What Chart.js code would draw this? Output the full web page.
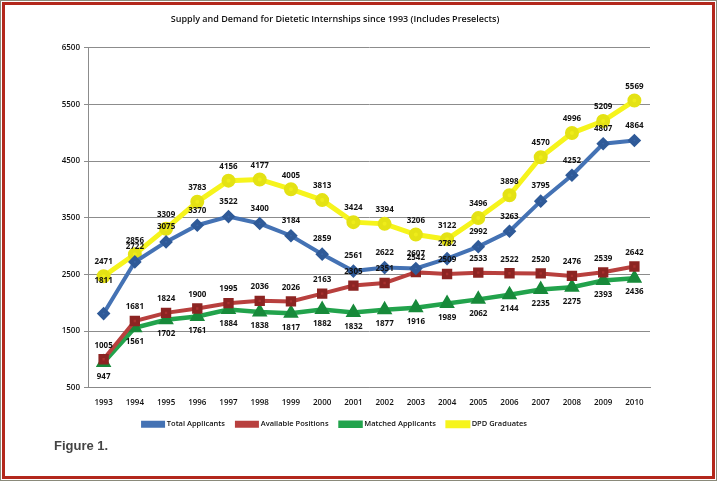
<!DOCTYPE html>
<html>
<head>
<meta charset="utf-8">
<script src="https://cdn.jsdelivr.net/npm/chart.js"></script>
<style>
  html, body { margin: 0; padding: 0; background: #fff; }
  #frame {
    position: absolute; left: 0; top: 0; width: 717px; height: 481px;
    box-sizing: border-box; border: 1px solid #8a8a7a;
  }
  #frame-inner {
    position: absolute; left: 1px; top: 1px; right: 1px; bottom: 1px;
    border: 3px solid #b3281c;
  }
  #wrap { position: absolute; left: 0; top: 0; width: 717px; height: 481px; }
  #fig {
    position: absolute; left: 54px; top: 438px;
    font-family: "Liberation Sans", Arial, sans-serif; font-weight: bold;
    font-size: 13px; color: #444;
  }
</style>
</head>
<body>
<div id="frame"><div id="frame-inner"></div></div>
<div id="wrap"><canvas id="chart" width="717" height="481"></canvas></div>
<div id="fig">Figure 1.</div>
<script>
// Data
const years = ['1993','1994','1995','1996','1997','1998','1999','2000','2001','2002',
               '2003','2004','2005','2006','2007','2008','2009','2010'];
const totalApplicants = [1811, 2722, 3075, 3370, 3522, 3400, 3184, 2859, 2561, 2622,
                         2607, 2782, 2992, 3263, 3795, 4252, 4807, 4864];
const availablePositions = [1005, 1681, 1824, 1900, 1995, 2036, 2026, 2163, 2305, 2351,
                            2542, 2509, 2533, 2522, 2520, 2476, 2539, 2642];
const matchedApplicants = [947, 1561, 1702, 1761, 1884, 1838, 1817, 1882, 1832, 1877,
                           1916, 1989, 2062, 2144, 2235, 2275, 2393, 2436];
const dpdGraduates = [2471, 2856, 3309, 3783, 4156, 4177, 4005, 3813, 3424, 3394,
                      3206, 3122, 3496, 3898, 4570, 4996, 5209, 5569];
const yTicks = [500, 1500, 2500, 3500, 4500, 5500, 6500];

const FONT = '"Open Sans", "Liberation Sans", sans-serif';

// draws the value next to each point
const valueLabels = {
  id: 'valueLabels',
  afterDatasetsDraw(chart) {
    const ctx = chart.ctx;
    ctx.save();
    ctx.font = 'bold 8px ' + FONT;
    ctx.fillStyle = '#111';
    ctx.textAlign = 'center';
    ctx.textBaseline = 'middle';
    chart.data.datasets.forEach((ds, i) => {
      const meta = chart.getDatasetMeta(i);
      meta.data.forEach((pt, j) => {
        let dy = ds.labelOffset;
        if (ds.firstLabelOffset !== undefined && j === 0) dy = ds.firstLabelOffset;
        ctx.fillText(String(ds.data[j]), pt.x, pt.y + dy);
      });
    });
    ctx.restore();
  }
};

new Chart(document.getElementById('chart'), {
  type: 'line',
  data: {
    labels: years,
    datasets: [
      {
        label: 'Total Applicants', data: totalApplicants,
        borderColor: '#4472b4', backgroundColor: '#3a66a8',
        pointStyle: 'rectRot', pointRadius: 4, pointBorderColor: '#2f5a98',
        borderWidth: 4, labelOffset: -15, firstLabelOffset: -33
      },
      {
        label: 'Available Positions', data: availablePositions,
        borderColor: '#b8403e', backgroundColor: '#a8302e',
        pointStyle: 'rect', pointRadius: 4.5, pointBorderColor: '#8c2422',
        borderWidth: 4, labelOffset: -14
      },
      {
        label: 'Matched Applicants', data: matchedApplicants,
        borderColor: '#22a34c', backgroundColor: '#1c9a44',
        pointStyle: 'triangle', pointRadius: 4.5, pointBorderColor: '#178a3a',
        borderWidth: 4.5, labelOffset: 14
      },
      {
        label: 'DPD Graduates', data: dpdGraduates,
        borderColor: '#f6f41c', backgroundColor: '#eeec1a',
        pointStyle: 'circle', pointRadius: 4.5, pointBorderColor: '#e4e214',
        borderWidth: 5, labelOffset: -14
      }
    ]
  },
  options: {
    responsive: false,
    animation: false,
    layout: { padding: { left: 20, right: 67, top: 8, bottom: 43 } },
    plugins: {
      title: {
        display: true,
        text: 'Supply and Demand for Dietetic Internships since 1993 (Includes Preselects)',
        font: { family: FONT, size: 9, weight: '600' },
        color: '#111',
        padding: { top: 6, bottom: 23 }
      },
      legend: {
        position: 'bottom',
        labels: {
          boxWidth: 20, boxHeight: 3,
          font: { family: FONT, size: 7.5, weight: '600' },
          color: '#111', padding: 12
        }
      },
      tooltip: { enabled: false }
    },
    scales: {
      x: {
        offset: true,
        afterFit(scale) { scale.height = scale.height - 9; },
        grid: { display: false, drawTicks: false },
        border: { color: '#888' },
        ticks: { font: { family: FONT, size: 8, weight: '600' }, color: '#111',
                 maxRotation: 0, padding: 10 }
      },
      y: {
        min: 500, max: 6500,
        afterFit(scale) { scale.width = 68; },
        afterBuildTicks(scale) { scale.ticks = yTicks.map(v => ({ value: v })); },
        grid: { color: '#8c8c8c', tickLength: 4 },
        border: { color: '#8c8c8c' },
        ticks: { font: { family: FONT, size: 8, weight: '600' }, color: '#111', padding: 4,
                 callback: v => String(v) }
      }
    }
  },
  plugins: [valueLabels]
});
</script>
</body>
</html>
